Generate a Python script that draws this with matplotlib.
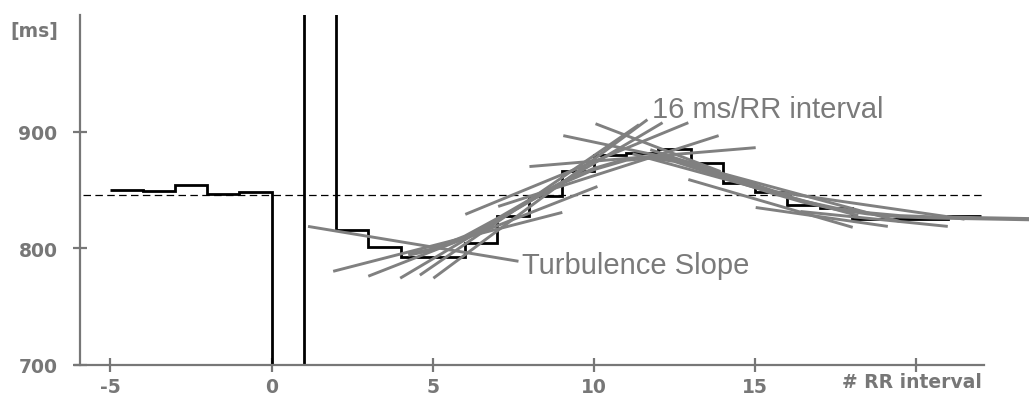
import matplotlib
matplotlib.use("Agg")
import matplotlib.pyplot as plt
import numpy as np

# ---- data ----
pre_rr = [850, 849, 854, 847, 848]               # RR intervals -5..-1
post_rr = [600, 1100, 816, 801, 793, 793, 805, 828, 845, 866,
           880, 882, 885, 873, 856, 848, 837, 835, 825, 825, 825, 828]  # 0..21
rr_start = -5
baseline_ms = 845.3

# local regression lines (start x, start y, end x, end y)
seg_x0 = [1.13, 1.91, 3.00, 3.99, 5.02, 4.60, 6.01, 7.03, 8.00, 9.05, 10.05,
          11.75, 12.93, 15.02, 16.41, 11.20, 12.40, 15.50]
seg_y0 = [818.8, 780.3, 776.1, 774.4, 774.4, 777.0, 829.1, 835.9, 870.1, 896.6, 906.8,
          884.6, 859.0, 835.0, 831.6, 881.0, 876.0, 849.0]
seg_x1 = [7.66, 9.02, 10.11, 12.13, 11.66, 11.40, 12.93, 13.87, 15.02, 13.31, 13.93,
          16.10, 18.03, 19.12, 20.98, 18.20, 19.50, 21.50]
seg_y1 = [788.9, 830.8, 853.0, 907.7, 910.3, 906.0, 907.7, 896.6, 886.3, 871.8, 865.8,
          844.4, 818.0, 818.8, 818.8, 828.0, 823.0, 825.0]

# smoothed trend
curve_x = [4.3, 5.0, 6.0, 7.0, 8.0, 9.0, 10.0, 11.0, 11.8, 12.5, 13.5, 14.5,
           15.5, 16.5, 17.5, 18.5, 19.5, 20.5, 21.5, 22.5, 23.5]
curve_y = [795, 799, 810, 825, 841, 856, 868, 876, 878, 875, 866, 857,
           848, 840, 834, 830, 827.5, 826.5, 826, 825.5, 825]

yticks = [700, 800, 900]
xticks = [-5, 0, 5, 10, 15, 20]
xticklabels = ["-5", "0", "5", "10", "15", ""]
yticklabels = ["700", "800", "900"]

GRAY = "#777777"
LINEGRAY = "#808080"

fig = plt.figure(figsize=(10.29, 4.02), dpi=100)
ax = fig.add_axes([75 / 1029, 36 / 402, 954 / 1029, 350 / 402])
ax.set_xlim(-6.1, 23.5)
ax.set_ylim(700, 1000)

# baseline dashed line
ax.plot([-5.85, 22.05], [baseline_ms, baseline_ms], color="black", lw=0.9,
        dashes=(6, 3.5), zorder=1)

# step tachogram
vals = pre_rr + post_rr
edges = np.arange(rr_start, rr_start + len(vals) + 1)
ax.stairs(vals, edges, baseline=None, color="black", lw=2.0, zorder=2)

# regression lines
for x0, y0, x1, y1 in zip(seg_x0, seg_y0, seg_x1, seg_y1):
    ax.plot([x0, x1], [y0, y1], color=LINEGRAY, lw=2.1,
            solid_capstyle="butt", zorder=3)

ax.plot(curve_x, curve_y, color=LINEGRAY, lw=3.0, zorder=3, clip_on=False)

# annotations
ax.text(7.77, 779.2, "Turbulence Slope", fontsize=21, color="#7a7a7a",
        family="Liberation Sans", va="baseline", ha="left", zorder=4)
ax.text(11.81, 912.8, "16 ms/RR interval", fontsize=21, color="#7a7a7a",
        family="Liberation Sans", va="baseline", ha="left", zorder=4)

# axes styling
for s in ["top", "right"]:
    ax.spines[s].set_visible(False)
ax.spines["left"].set_position(("data", -5.95))
ax.spines["left"].set_color(GRAY)
ax.spines["left"].set_linewidth(1.6)
ax.spines["bottom"].set_color(GRAY)
ax.spines["bottom"].set_linewidth(1.6)
ax.spines["bottom"].set_bounds(-6.1, 22.1)

ax.set_yticks(yticks)
ax.set_yticklabels(yticklabels)
ax.set_xticks(xticks)
ax.set_xticklabels(xticklabels)
ax.tick_params(axis="both", direction="inout", length=10, width=1.6,
               colors=GRAY, labelsize=13.5)
ax.tick_params(axis="y", pad=11.0)
ax.tick_params(axis="x", pad=3.6)
for lab in ax.get_xticklabels() + ax.get_yticklabels():
    lab.set_fontweight("bold")
    lab.set_family("DejaVu Sans")

fig.text(10 / 1029, 1 - 31 / 402, "[ms]", fontsize=13.5, fontweight="bold",
         color=GRAY, ha="left", va="center", family="DejaVu Sans")
fig.text(982 / 1029, 1 - 383 / 402, "# RR interval", fontsize=13.5,
         fontweight="bold", color=GRAY, ha="right", va="center",
         family="DejaVu Sans")

fig.savefig("out.png", dpi=100)
